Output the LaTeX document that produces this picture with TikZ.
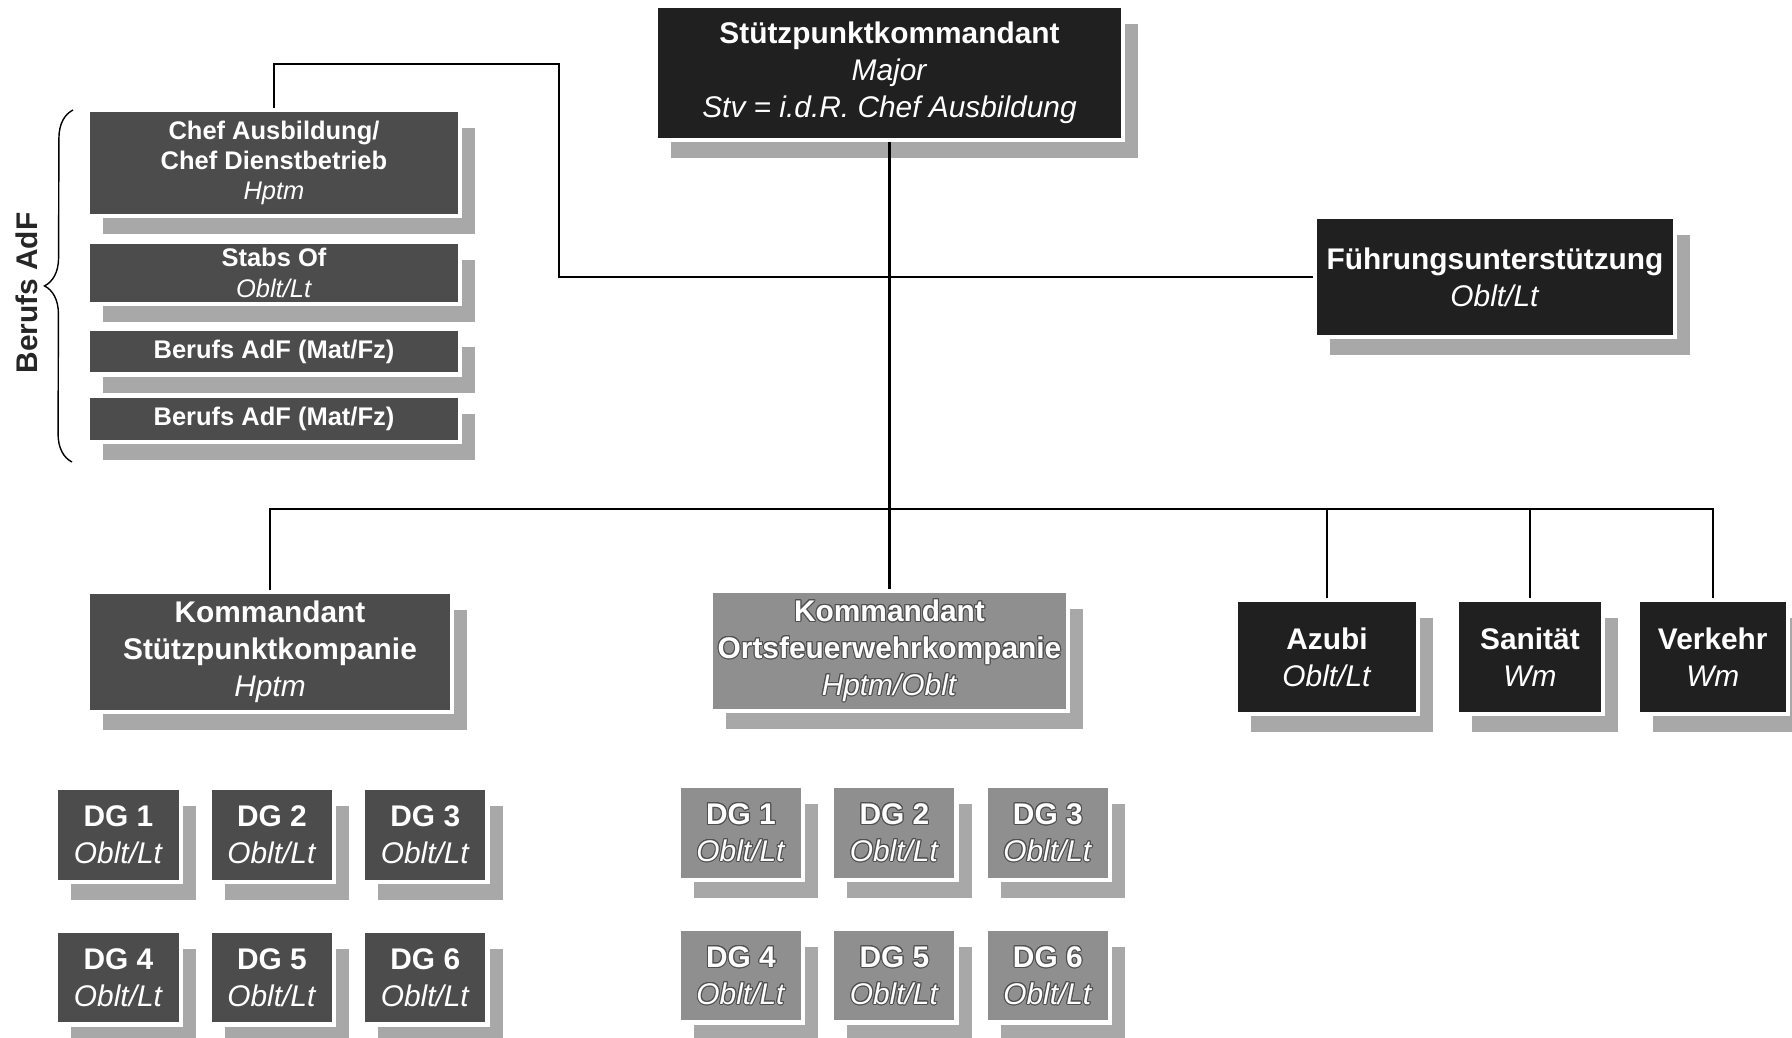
\documentclass[tikz,border=0pt]{standalone}
\usepackage{fontspec}
\setmainfont{Liberation Sans}
\usepackage{xcolor}
\usepackage{tikz}
\usetikzlibrary{positioning,shadows,decorations.pathreplacing}
\usepackage{contour}
\contourlength{0.6pt}

\definecolor{chiefblack}{HTML}{202020}
\definecolor{staffgray}{HTML}{4C4C4C}
\definecolor{firegray}{HTML}{8F8F8F}
\definecolor{shadowgray}{HTML}{A8A8A8}
\definecolor{rimgray}{HTML}{505050}

\newcommand{\rim}[1]{\contour{rimgray}{#1}}

\begin{document}
\begin{tikzpicture}[node distance=0.9cm and 0.49cm]

    % Styles for the organisation chart
    \tikzset{
        unitbox/.style={rectangle, draw=white, line width=2.5pt, text=white, align=center, inner sep=1pt,
            font=\fontsize{17}{21}\selectfont,
            drop shadow={shadow xshift=0.3cm, shadow yshift=-0.36cm, fill=shadowgray, opacity=1}},
        chiefbox/.style={unitbox, fill=chiefblack},
        staffbox/.style={unitbox, fill=staffgray, minimum width=7.45cm, font=\fontsize{14.5}{17.3}\selectfont},
        companybox/.style={unitbox, fill=staffgray, minimum height=2.41cm},
        firebox/.style={unitbox, fill=firegray, minimum height=2.41cm},
        groupbox/.style={unitbox, fill=staffgray, minimum width=2.49cm, minimum height=1.87cm},
        firegroupbox/.style={groupbox, fill=firegray},
        link/.style={draw=black, line width=1.2pt},
        bracelabel/.style={rotate=90, font=\fontsize{17}{21}\selectfont\bfseries, text=black!85}
    }

    \useasboundingbox (0,0) rectangle (35.84,-20.74);

    % Command level
    \node[chiefbox, minimum width=9.35cm, minimum height=2.69cm] (boss) at (17.79,-1.46) {
        \textbf{Stützpunktkommandant}\\
        \textit{Major}\\
        \textit{Stv = i.d.R. Chef Ausbildung}
    };

    \node[chiefbox, minimum width=7.21cm, minimum height=2.41cm] (fue) at (29.9,-5.54) {
        \textbf{Führungsunterstützung}\\
        \textit{Oblt/Lt}
    };

    % Berufs AdF column
    \node[staffbox, minimum height=2.13cm] (chef) at (5.48,-3.26) {
        \textbf{Chef Ausbildung/}\\
        \textbf{Chef Dienstbetrieb}\\
        \textit{Hptm}
    };
    \node[staffbox, minimum height=1.25cm, below=0.42cm of chef] (stabs) {
        \textbf{Stabs Of}\\
        \textit{Oblt/Lt}
    };
    \node[staffbox, minimum height=0.92cm, below=0.4cm of stabs] (matA) {\textbf{Berufs AdF (Mat/Fz)}};
    \node[staffbox, minimum height=0.92cm, below=0.34cm of matA] (matB) {\textbf{Berufs AdF (Mat/Fz)}};

    \coordinate (braceBot) at (1.44,-9.24);
    \coordinate (braceTop) at (1.46,-2.2);
    \draw[decorate, decoration={brace, amplitude=0.56cm}, line width=0.8pt] (braceBot) -- (braceTop);
    \node[bracelabel] (adf) at (0.54,-5.86) {Berufs AdF};

    % Companies and special functions
    \node[companybox, minimum width=7.29cm] (kdtstp) at (5.4,-13.04) {
        \textbf{Kommandant}\\
        \textbf{Stützpunktkompanie}\\
        \textit{Hptm}
    };
    \node[firebox, minimum width=7.15cm] (kdtofw) at (17.79,-13.02) {
        \rim{\textbf{Kommandant}}\\
        \rim{\textbf{Ortsfeuerwehrkompanie}}\\
        \rim{\textit{Hptm/Oblt}}
    };

    \node[chiefbox, minimum width=3.65cm, minimum height=2.27cm] (azubi) at (26.54,-13.14) {
        \textbf{Azubi}\\
        \textit{Oblt/Lt}
    };
    \node[chiefbox, minimum width=2.93cm, minimum height=2.29cm, right=0.68cm of azubi] (sani) {
        \textbf{Sanität}\\
        \textit{Wm}
    };
    \node[chiefbox, minimum width=3.01cm, minimum height=2.29cm, right=0.6cm of sani] (verkehr) {
        \textbf{Verkehr}\\
        \textit{Wm}
    };

    % Detachement groups Stuetzpunktkompanie
    \node[groupbox] (dgA1) at (2.37,-16.7) {\textbf{DG 1}\\\textit{Oblt/Lt}};
    \node[groupbox, right=of dgA1] (dgA2) {\textbf{DG 2}\\\textit{Oblt/Lt}};
    \node[groupbox, right=of dgA2] (dgA3) {\textbf{DG 3}\\\textit{Oblt/Lt}};
    \node[groupbox, below=of dgA1] (dgA4) {\textbf{DG 4}\\\textit{Oblt/Lt}};
    \node[groupbox, right=of dgA4] (dgA5) {\textbf{DG 5}\\\textit{Oblt/Lt}};
    \node[groupbox, right=of dgA5] (dgA6) {\textbf{DG 6}\\\textit{Oblt/Lt}};

    % Detachement groups Ortsfeuerwehrkompanie
    \node[firegroupbox] (dgB1) at (14.82,-16.66) {\rim{\textbf{DG 1}}\\\rim{\textit{Oblt/Lt}}};
    \node[firegroupbox, right=of dgB1] (dgB2) {\rim{\textbf{DG 2}}\\\rim{\textit{Oblt/Lt}}};
    \node[firegroupbox, right=of dgB2] (dgB3) {\rim{\textbf{DG 3}}\\\rim{\textit{Oblt/Lt}}};
    \node[firegroupbox, below=of dgB1] (dgB4) {\rim{\textbf{DG 4}}\\\rim{\textit{Oblt/Lt}}};
    \node[firegroupbox, right=of dgB4] (dgB5) {\rim{\textbf{DG 5}}\\\rim{\textit{Oblt/Lt}}};
    \node[firegroupbox, right=of dgB5] (dgB6) {\rim{\textbf{DG 6}}\\\rim{\textit{Oblt/Lt}}};

    % Connecting lines
    \coordinate (stabtop) at (11.18,-1.28);
    \coordinate (bus) at (17.79,-10.18);
    \draw[link] (chef.north) |- (stabtop) |- (fue.west);
    \draw[link] (boss.south) -- (boss.south |- bus);
    \draw[link] (kdtstp.north) |- (verkehr.north |- bus) -- (verkehr.north);
    \draw[link] (kdtofw.north) -- (kdtofw.north |- bus);
    \draw[link] (azubi.north) -- (azubi.north |- bus);
    \draw[link] (sani.north) -- (sani.north |- bus);

\end{tikzpicture}
\end{document}
